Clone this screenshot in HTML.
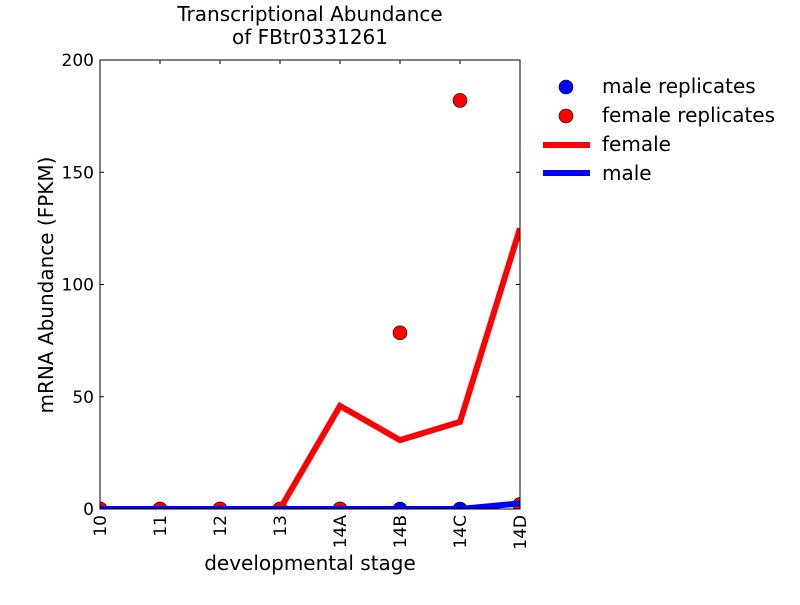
<!DOCTYPE html>
<html><head><meta charset="utf-8"><style>
body{margin:0;background:#fff;}
svg text{font-family:"DejaVu Sans","Liberation Sans",sans-serif;}
</style></head><body>
<svg id="chart" width="800" height="600" xmlns="http://www.w3.org/2000/svg">
<defs><clipPath id="clip"><rect x="100" y="60" width="420" height="449"/></clipPath></defs>
<text x="310" y="21" font-size="20" text-anchor="middle">Transcriptional Abundance</text>
<text x="310" y="44" font-size="20" text-anchor="middle">of FBtr0331261</text>
<text transform="translate(53,285) rotate(-90)" font-size="20" text-anchor="middle">mRNA Abundance (FPKM)</text>
<text x="310" y="570" font-size="20" text-anchor="middle">developmental stage</text>
<g id="marks" clip-path="url(#clip)"></g>
<rect x="100" y="60" width="420" height="449" fill="none" stroke="#000" stroke-width="1"/>
<g id="axes"></g>
<g>
<circle cx="566" cy="87" r="7" fill="#0000ff" stroke="#000" stroke-width="0.6"/>
<text x="602" y="93" font-size="20">male replicates</text>
<circle cx="566" cy="116" r="7" fill="#ff0000" stroke="#000" stroke-width="0.6"/>
<text x="602" y="122" font-size="20">female replicates</text>
<line x1="543" y1="145" x2="590" y2="145" stroke="#ff0000" stroke-width="6"/>
<text x="602" y="151" font-size="20">female</text>
<line x1="543" y1="173" x2="590" y2="173" stroke="#0000ff" stroke-width="6"/>
<text x="602" y="180" font-size="20">male</text>
</g>
</svg>
<script>
const categories = ["10","11","12","13","14A","14B","14C","14D"];
const femaleMean = [0,0,0,0,45.9,30.7,38.8,125];
const maleMean = [0,0,0,0,0,0,0,2.5];
const femaleReps = [0,0,0,0,0,78.5,182,2];
const maleReps = [0,0,0,0,0,0,0,2];
const yTicks = [0,50,100,150,200];

const NS="http://www.w3.org/2000/svg";
const x0=100,x1=520,y0=509,y1=60,yMax=200;
const xs=i=>x0+i*(x1-x0)/(categories.length-1);
const ys=v=>y0-v*(y0-y1)/yMax;
const marks=document.getElementById('marks'), axes=document.getElementById('axes');
function mk(tag,attrs,parent){const e=document.createElementNS(NS,tag);for(const k in attrs)e.setAttribute(k,attrs[k]);parent.appendChild(e);return e;}

maleReps.forEach((v,i)=>{const c=mk('circle',{cx:xs(i),cy:ys(v),r:7,fill:'#0000ff',stroke:'#000','stroke-width':0.6},marks);

});
femaleReps.forEach((v,i)=>{const c=mk('circle',{cx:xs(i),cy:ys(v),r:7,fill:'#ff0000',stroke:'#000','stroke-width':0.6},marks);

});
const fl=mk('polyline',{points:femaleMean.map((v,i)=>xs(i)+','+ys(v)).join(' '),fill:'none',stroke:'#ff0000','stroke-width':6,'stroke-linejoin':'miter'},marks);


const ml=mk('polyline',{points:maleMean.map((v,i)=>xs(i)+','+ys(v)).join(' '),fill:'none',stroke:'#0000ff','stroke-width':6},marks);



yTicks.forEach(t=>{const y=ys(t);
mk('line',{x1:x0,y1:y,x2:x0+4,y2:y,stroke:'#000'},axes);
mk('line',{x1:x1,y1:y,x2:x1-4,y2:y,stroke:'#000'},axes);
const tx=mk('text',{x:x0-6,y:y+6,'font-size':17,'text-anchor':'end'},axes);tx.textContent=t;

});
categories.forEach((c,i)=>{const x=xs(i);
mk('line',{x1:x,y1:y0,x2:x,y2:y0-4,stroke:'#000'},axes);
mk('line',{x1:x,y1:y1,x2:x,y2:y1+4,stroke:'#000'},axes);
const tx=mk('text',{transform:`translate(${x+6},${y0+6}) rotate(-90)`,'font-size':17,'text-anchor':'end'},axes);tx.textContent=c;

});
</script>
</body></html>
